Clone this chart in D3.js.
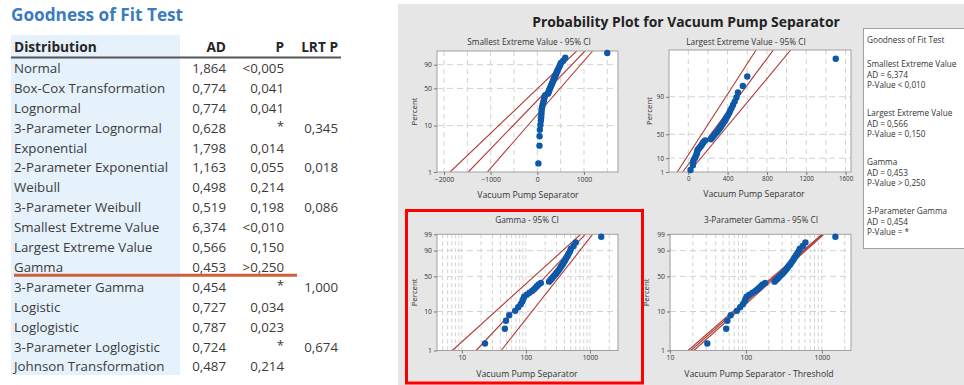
<!DOCTYPE html>
<html><head><meta charset="utf-8">
<script src="https://cdn.jsdelivr.net/npm/d3@7"></script>
<style>body{margin:0;background:#fff}svg{display:block}</style>
</head><body>
<svg id="c" width="964" height="385"></svg>
<script>
// ---------- data ----------
const distributions = ["Normal","Box-Cox Transformation","Lognormal","3-Parameter Lognormal","Exponential","2-Parameter Exponential","Weibull","3-Parameter Weibull","Smallest Extreme Value","Largest Extreme Value","Gamma","3-Parameter Gamma","Logistic","Loglogistic","3-Parameter Loglogistic","Johnson Transformation"];
const adValues = ["1,864","0,774","0,774","0,628","1,798","1,163","0,498","0,519","6,374","0,566","0,453","0,454","0,727","0,787","0,724","0,487"];
const pValues = ["<0,005","0,041","0,041","*","0,014","0,055","0,214","0,198","<0,010","0,150",">0,250","*","0,034","0,023","*","0,214"];
const lrtValues = ["","","","0,345","","0,018","","0,086","","","","1,000","","","0,674",""];
const tableHeaders = ["Distribution","AD","P","LRT P"];
const highlightRow = "Gamma";

const separatorValues = [23,47,49,55,68,76,83,88,91,94,103,114,125,134,142,150,158,171,
  230,240,250,260,270,282,294,304,315,326,336,346,356,368,380,390,402,415,426,440,455,472,490,505,555,600,1500];
const threshold3P = -8;
const gammaShape = 2;

// fitted line and 95% CI: [value at 1%, value at 99%]
const sevFit = [-1478, 1021], sevLower = [-1869, 844], sevUpper = [-1071, 1186];
const levFit = [-57, 865], levLower = [-112, 690], levUpper = [10, 1042];
const gamFit = [16.7, 845], gamLower = [7.1, 716], gamUpper = [41.2, 1102];
const g3Fit = [18.8, 1030], g3Lower = [17.3, 1000], g3Upper = [20.6, 1065];

const sevXTicks = [-2000,-1000,0,1000], sevXGrid = [-2000,-1500,-1000,-500,0,500,1000,1500];
const levXTicks = [0,400,800,1200,1600], levXGrid = [0,200,400,600,800,1000,1200,1400,1600];
const logXTicks = [10,100,1000];
const evYTicks = [1,10,50,90], gamYTicks = [1,10,50,90,99], yGridPct = [10,50,90];

const legendTitle = "Goodness of Fit Test";
const legendNames = ["Smallest Extreme Value","Largest Extreme Value","Gamma","3-Parameter Gamma"];
const legendAD = ["AD = 6,374","AD = 0,566","AD = 0,453","AD = 0,454"];
const legendP = ["P-Value < 0,010","P-Value = 0,150","P-Value > 0,250","P-Value = *"];

// ---------- helpers ----------
const FONT = "'Open Sans','Noto Sans',sans-serif";
const svg = d3.select("#c").attr("font-family", FONT);

function lnGamma(z){const g=7,c=[0.99999999999980993,676.5203681218851,-1259.1392167224028,771.32342877765313,-176.61502916214059,12.507343278686905,-0.13857109526572012,9.9843695780195716e-6,1.5056327351493116e-7];
  if(z<0.5) return Math.log(Math.PI/Math.sin(Math.PI*z))-lnGamma(1-z);
  z-=1;let x=c[0];for(let i=1;i<g+2;i++)x+=c[i]/(z+i);const t=z+g+0.5;
  return 0.5*Math.log(2*Math.PI)+(z+0.5)*Math.log(t)-t+Math.log(x);}
function gammaP(a,x){
  if(x<=0) return 0;
  if(x<a+1){let ap=a,sum=1/a,del=sum;for(let n=0;n<500;n++){ap+=1;del*=x/ap;sum+=del;if(Math.abs(del)<Math.abs(sum)*1e-14)break;}
    return sum*Math.exp(-x+a*Math.log(x)-lnGamma(a));}
  let b=x+1-a,c=1e300,d=1/b,h=d;
  for(let i=1;i<500;i++){const an=-i*(i-a);b+=2;d=an*d+b;if(Math.abs(d)<1e-300)d=1e-300;c=b+an/c;if(Math.abs(c)<1e-300)c=1e-300;d=1/d;const del=d*c;h*=del;if(Math.abs(del-1)<1e-14)break;}
  return 1-Math.exp(-x+a*Math.log(x)-lnGamma(a))*h;}
function gammaInv(p,a){let lo=0,hi=200;for(let i=0;i<120;i++){const m=(lo+hi)/2;if(gammaP(a,m)<p)lo=m;else hi=m;}return (lo+hi)/2;}

const tSEV = p => Math.log(-Math.log(1-p));
const tLEV = p => -Math.log(-Math.log(p));
const tGAM = p => Math.log10(gammaInv(p, gammaShape));
const n = separatorValues.length;
const plotPos = separatorValues.map((v,i)=>(i+1-0.3)/(n+0.4));

// ---------- left table ----------
svg.append("text").attr("x",11).attr("y",21).text("Goodness of Fit Test")
  .attr("font-size",17.2).attr("font-weight",700).attr("fill","#3a7cbd");
svg.append("rect").attr("x",11).attr("y",35).attr("width",169).attr("height",340).attr("fill","#e5f1fb");
const colX = [14,226,284,338];
const rowY = d3.scaleLinear().domain([0,distributions.length-1]).range([68.3,366.7]);
svg.append("g").selectAll("text").data(tableHeaders).join("text")
  .attr("x",(d,i)=>colX[i]).attr("y",52).attr("text-anchor",(d,i)=>i?"end":"start")
  .attr("font-size",13.7).attr("font-weight",700).attr("fill","#262626").text(d=>d);
svg.append("line").attr("x1",11).attr("x2",341).attr("y1",57.5).attr("y2",57.5).attr("stroke","#555").attr("stroke-width",2);
const rows = svg.append("g").attr("font-size",13.3).attr("fill","#3b3b3b");
distributions.forEach((d,i)=>{
  const y=rowY(i)+4.7;
  rows.append("text").attr("x",colX[0]).attr("y",y).text(d);
  rows.append("text").attr("x",colX[1]).attr("y",y).attr("text-anchor","end").text(adValues[i]);
  rows.append("text").attr("x",colX[2]).attr("y",pValues[i]==="*"?y-2:y).attr("text-anchor","end").text(pValues[i]);
  if(lrtValues[i]) rows.append("text").attr("x",colX[3]).attr("y",y).attr("text-anchor","end").text(lrtValues[i]);
});
const hi = distributions.indexOf(highlightRow);
svg.append("line").attr("x1",14).attr("x2",297).attr("y1",rowY(hi)+8).attr("y2",rowY(hi)+8)
  .attr("stroke","#d0603c").attr("stroke-width",3);

// ---------- right panel ----------
svg.append("rect").attr("x",398).attr("y",4).attr("width",566).attr("height",381).attr("fill","#e6e6e6");
svg.append("text").attr("x",686).attr("y",27).attr("text-anchor","middle")
  .attr("font-size",13.9).attr("font-weight",700).attr("fill","#222").text("Probability Plot for Vacuum Pump Separator");

function probPlot(o){
  const g = svg.append("g");
  const [x0,x1]=o.xr, [y0,y1]=o.yr;
  const ys = d3.scaleLinear().domain([o.t(0.01),o.t(0.99)]).range([y1,y0]);
  const yp = p => ys(o.t(p));
  g.append("clipPath").attr("id","cl"+o.id).append("rect").attr("x",x0).attr("y",y0).attr("width",x1-x0).attr("height",y1-y0);
  g.append("rect").attr("x",x0).attr("y",y0).attr("width",x1-x0).attr("height",y1-y0).attr("fill","#fff");
  const cg = g.append("g").attr("clip-path",`url(#cl${o.id})`);
  cg.selectAll(".vg").data(o.xGrid).join("line")
    .attr("x1",d=>o.x(d)).attr("x2",d=>o.x(d)).attr("y1",y0).attr("y2",y1)
    .attr("stroke","#d2d2d2").attr("stroke-width",1).attr("stroke-dasharray",o.vdash||"5,4");
  cg.selectAll(".hg").data(yGridPct).join("line")
    .attr("x1",x0).attr("x2",x1).attr("y1",d=>yp(d/100)).attr("y2",d=>yp(d/100))
    .attr("stroke","#d2d2d2").attr("stroke-width",1).attr("stroke-dasharray","6,4");
  const lg = d3.line().x(d=>o.x(d[0])).y(d=>yp(d[1]));
  o.lines.forEach(L=>{
    cg.append("path").attr("d",lg([[L[0],0.01],[L[1],0.99]])).attr("fill","none")
      .attr("stroke","#b03b36").attr("stroke-width",1.1);
  });
  g.append("rect").attr("x",x0).attr("y",y0).attr("width",x1-x0).attr("height",y1-y0)
    .attr("fill","none").attr("stroke","#a0a0a0").attr("stroke-width",1);
  const xa = g.append("g").attr("transform",`translate(0,${y1})`)
    .call(d3.axisBottom(o.x).tickValues(o.xTicks).tickSize(3).tickPadding(2).tickFormat(d3.format("d")));
  const ya = g.append("g").attr("transform",`translate(${x0},0)`)
    .call(d3.axisLeft(ys).tickValues(o.yTicks.map(p=>o.t(p/100))).tickSize(3).tickPadding(2).tickFormat((d,i)=>o.yTicks[i]));
  [xa,ya].forEach(a=>{a.select(".domain").remove();
    a.selectAll("line").attr("stroke","#777");
    a.selectAll("text").attr("font-family",FONT).attr("font-size",o.tickFont||6.8).attr("fill","#333");});
  g.selectAll("circle").data(o.values).join("circle")
    .attr("cx",d=>o.x(d)).attr("cy",(d,i)=>yp(plotPos[i])).attr("r",3.2).attr("fill","#0d58a8");
  g.append("text").attr("x",o.subX).attr("y",o.subY).attr("text-anchor","middle")
    .attr("font-size",8.3).attr("fill","#333").text(o.sub);
  g.append("text").attr("x",o.xlX).attr("y",o.xlY).attr("text-anchor","middle")
    .attr("font-size",8.7).attr("fill","#333").text(o.xl);
  g.append("text").attr("transform",`translate(${o.ylX},${(y0+y1)/2}) rotate(-90)`).attr("text-anchor","middle")
    .attr("font-size",7.8).attr("fill","#333").text("Percent");
}

probPlot({id:1, xr:[437,618], yr:[51,172], t:tSEV,
  x:d3.scaleLinear().domain([-2150,1730]).range([437,618]),
  xTicks:sevXTicks, xGrid:sevXGrid, yTicks:evYTicks, values:separatorValues,
  lines:[sevLower,sevFit,sevUpper], sub:"Smallest Extreme Value - 95% CI", subX:529, subY:45,
  xl:"Vacuum Pump Separator", xlX:528, xlY:198, ylX:417});
probPlot({id:2, xr:[669,851], yr:[50,172], t:tLEV,
  x:d3.scaleLinear().domain([-196,1655]).range([669,851]),
  xTicks:levXTicks, xGrid:levXGrid, yTicks:evYTicks, values:separatorValues, tickFont:6.3,
  lines:[levLower,levFit,levUpper], sub:"Largest Extreme Value - 95% CI", subX:746, subY:45,
  xl:"Vacuum Pump Separator", xlX:754, xlY:197, ylX:652});
probPlot({id:3, xr:[437,618], yr:[234.3,350.5], t:tGAM,
  x:d3.scaleLog().domain([4.1,2740]).range([437,618]),
  xTicks:logXTicks, xGrid:d3.scaleLog().domain([4.1,2740]).ticks(), yTicks:gamYTicks, values:separatorValues, vdash:"4,3",
  lines:[gamLower,gamFit,gamUpper], sub:"Gamma - 95% CI", subX:527, subY:223,
  xl:"Vacuum Pump Separator", xlX:527, xlY:377, ylX:417});
probPlot({id:4, xr:[670,851], yr:[234.3,350.5], t:tGAM,
  x:d3.scaleLog().domain([10,2420]).range([670,851]),
  xTicks:logXTicks, xGrid:d3.scaleLog().domain([10,2420]).ticks(), yTicks:gamYTicks,
  values:separatorValues.map(v=>v-threshold3P), vdash:"4,3",
  lines:[g3Lower,g3Fit,g3Upper], sub:"3-Parameter Gamma - 95% CI", subX:761, subY:223,
  xl:"Vacuum Pump Separator - Threshold", xlX:759, xlY:377, ylX:649});

svg.append("rect").attr("x",406.5).attr("y",210.5).attr("width",236).attr("height",172.5)
  .attr("fill","none").attr("stroke","#ff0000").attr("stroke-width",3);

svg.append("rect").attr("x",863.5).attr("y",28.5).attr("width",110).attr("height",220)
  .attr("fill","#fff").attr("stroke","#a0a0a0");
const lgd = svg.append("g").attr("font-size",8.2).attr("fill","#333");
lgd.append("text").attr("x",867).attr("y",43).text(legendTitle);
const blockY = [67,116,165,214];
legendNames.forEach((nm,i)=>{
  [nm, legendAD[i], legendP[i]].forEach((s,j)=>{
    lgd.append("text").attr("x",867).attr("y",blockY[i]+j*10.5).text(s);
  });
});
</script>
</body></html>
